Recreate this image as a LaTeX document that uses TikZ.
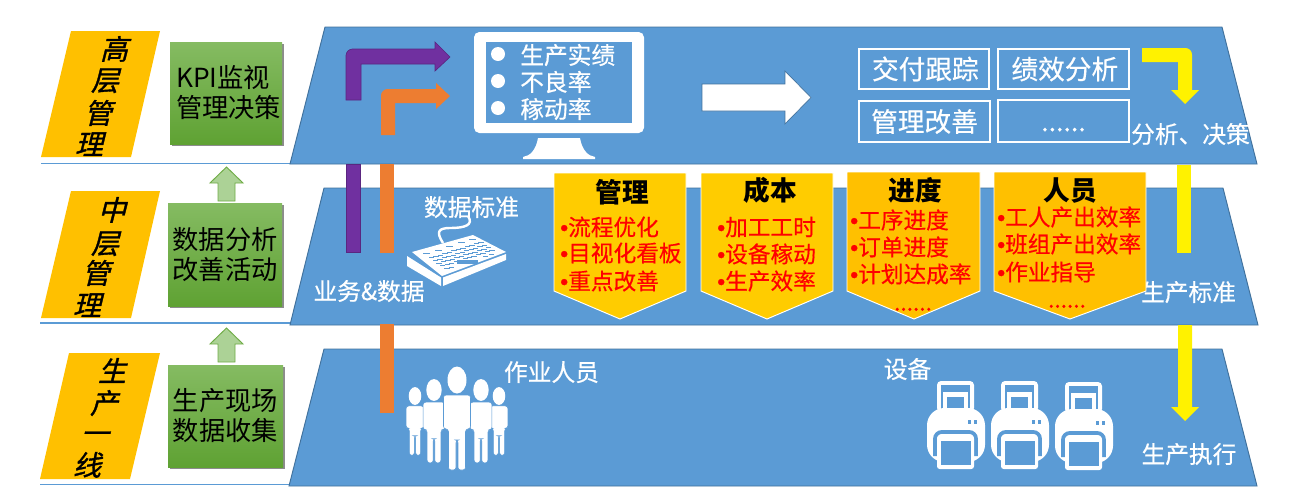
\documentclass[tikz,border=0pt]{standalone}
\usepackage{fontspec}
\usetikzlibrary{shadows}
\setmainfont{Noto Sans CJK SC}
\newfontfamily\slantfont[FakeSlant=.25,FakeBold=1.2]{Noto Sans CJK SC}
\newfontfamily\thickfont[FakeBold=.5]{Noto Sans CJK SC}
\newfontfamily\dotfont[FakeBold=1]{Liberation Sans}
\definecolor{tierblue}{HTML}{5B9BD5}
\definecolor{tieredge}{HTML}{41719C}
\definecolor{tiergold}{HTML}{FFC000}
\definecolor{panelgold}{HTML}{FFCC00}
\definecolor{flowpurple}{HTML}{7030A0}
\definecolor{floworange}{HTML}{ED7D31}
\definecolor{greentop}{HTML}{85BB62}
\definecolor{greenbottom}{HTML}{5FA233}
\definecolor{greenlight}{HTML}{ACD296}
\definecolor{greenedge}{HTML}{70AD47}
\tikzset{
    tier/.style={fill=tierblue,draw=tieredge,line width=.7pt},
    tierline/.style={draw=tierblue,line width=.8pt},
    tiertag/.style={fill=tiergold},
    slantchar/.style={inner sep=0,text height=18.4pt,text depth=2.5pt,font=\fontsize{21}{22}\selectfont\slantfont},
    greenbox/.style={top color=greentop,bottom color=greenbottom,inner sep=0,align=center,
        font=\fontsize{19.7}{22.5}\selectfont,drop shadow={shadow xshift=1.2pt,shadow yshift=-1.8pt,opacity=.45,fill=black}},
    uparrow/.style={fill=greenlight,draw=greenedge,line width=.7pt},
    whitelabel/.style={text=white,inner sep=0,text height=15.7pt,text depth=2.1pt,font=\fontsize{17.8}{20}\selectfont\thickfont},
    whitebox/.style={draw=white,line width=.8pt,text=white,inner sep=0,text height=17.6pt,text depth=2.4pt,font=\fontsize{20}{22}\selectfont\thickfont},
    panel/.style={draw=white,line width=.7pt},
    panelhead/.style={inner sep=0,text height=17.5pt,text depth=2.4pt,font=\fontsize{20}{22}\selectfont\bfseries},
    reditem/.style={text=red,inner sep=0,text height=15pt,text depth=2.1pt,font=\fontsize{17}{20}\selectfont\thickfont},
    keygap/.style={fill=tierblue}
}
\begin{document}
\begin{tikzpicture}[x=.75pt,y=-.75pt]
    \useasboundingbox (0,0) rectangle (1289,497);
    \foreach \y/\xa in {163.5/41,323/40,484.5/40} \draw[tierline] (\xa,\y)--(290,\y);
    \draw[tier] (325,27)--(1222,27)--(1257,164)--(290,164)--cycle;
    \draw[tier] (324,188)--(1223,188)--(1258,325)--(290,325)--cycle;
    \draw[tier] (324,349)--(1222,349)--(1257,486)--(289,486)--cycle;
    \fill[tiertag] (71,31)--(160,31)--(131,157)--(41,157)--cycle;
    \fill[tiertag] (71,191)--(160,191)--(131,318)--(41,318)--cycle;
    \fill[tiertag] (69,353)--(160,353)--(130,479)--(40,479)--cycle;
    \foreach \n/\ch/\cx/\cy in {a/高/114/49,b/层/105/80,c/管/98/113,d/理/89/144,
        e/中/112/210,f/层/105/243,g/管/96/273,h/理/87/305,
        i/生/112/371,j/产/104/403,k/一/95/433,l/线/87/465}
        \node[slantchar] (tag\n) at (\cx,\cy) {\ch};
    \node[greenbox,align=left,minimum width=84pt,minimum height=76.5pt] (kpi) at (226,93) {\hspace*{4pt}KPI监视\\\hspace*{4pt}管理决策};
    \node[greenbox,minimum width=85.5pt,minimum height=77.25pt] (analysis) at (225,254.5) {数据分析\\改善活动};
    \node[greenbox,minimum width=86.25pt,minimum height=76.5pt] (collect) at (225.5,416) {生产现场\\数据收集};
    \foreach \ay in {167,328}
        \draw[uparrow] (226.5,\ay)--(243,\ay+16)--(235,\ay+16)--(235,\ay+34)--(218,\ay+34)--(218,\ay+16)--(210,\ay+16)--cycle;
    \draw[fill=flowpurple,draw=flowpurple!80!black,line width=.5pt] (346,100) [rounded corners=5pt] --(346,49) [sharp corners] --(435,49)--(435,42)--(450,57)--(435,71)--(435,64)--(361,64)--(361,100)--cycle;
    \fill[floworange] (381,135) [rounded corners=5pt] --(381,89) [sharp corners] --(436,89)--(436,83)--(450,96)--(436,109)--(436,103)--(395,103)--(395,135)--cycle;
    \draw[fill=flowpurple,draw=flowpurple!80!black,line width=.5pt] (346,164) rectangle (360,252);
    \fill[floworange] (380,164) rectangle (394,253);
    \fill[floworange] (380,324) rectangle (394,413);
    \fill[yellow] (1142,48) [rounded corners=5pt] --(1192,48) [sharp corners] --(1192,90)--(1199,90)--(1185,104)--(1171,90)--(1178,90)--(1178,62)--(1142,62)--cycle;
    \fill[yellow] (1177,165) rectangle (1191,253);
    \fill[yellow] (1178,325)--(1192,325)--(1192,407)--(1199,407)--(1185,421)--(1171,407)--(1178,407)--cycle;
    \fill[white,rounded corners=4pt] (474,32) rectangle (644,133);
    \fill[tierblue] (486,42) rectangle (632,123);
    \fill[white] (538,138)--(580,138) .. controls (582,150) and (588,156) .. (595,157)--(595,159)--(523,159)--(523,157) .. controls (530,156) and (536,150) .. (538,138)--cycle;
    \foreach \n/\tx/\cy in {output/生产实绩/55,defect/不良率/82,uptime/稼动率/109}{
        \fill[white] (498,\cy-1) circle (7);
        \node[whitelabel,anchor=west] (\n) at (520,\cy) {\tx};
    }
    \draw[fill=white,draw=tieredge,line width=.5pt] (702,84)--(785,84)--(785,71)--(811,97.5)--(785,124)--(785,111)--(702,111)--cycle;
    \node[whitebox,minimum width=97.5pt,minimum height=30pt] (delivery) at (924,69) {\hspace*{2pt}交付跟踪};
    \node[whitebox,minimum width=98.25pt,minimum height=30pt] (perform) at (1063.5,69) {\hspace*{2pt}绩效分析};
    \node[whitebox,minimum width=98.25pt,minimum height=30.75pt] (improve) at (924.5,121.5) {管理改善};
    \node[whitebox,minimum width=98.25pt,minimum height=31.5pt] (more) at (1063.5,121) {......};
    \node[whitelabel] (decide) at (1190.5,134) {分析、决策};
    \node[whitelabel] (standard) at (1188.5,292) {生产标准};
    \node[whitelabel] (execute) at (1189,454) {生产执行};
    \node[whitelabel] (device) at (907.5,369) {设备};
    \node[whitelabel] (worker) at (551.5,372) {作业人员};
    \node[whitelabel] (datastd) at (471.5,207) {数据标准};
    \node[whitelabel] (bizdata) at (369,291) {业务\&数据};
    \foreach \xa/\xb/\xc/\col/\ty in {554/686/620/panelgold/173,701/833/767/panelgold/173,847/980/914/tiergold/172,994/1146/1070/tiergold/172}
        \draw[panel,fill=\col] (\xa,\ty)--(\xb,\ty)--(\xb,291)--(\xc,319)--(\xa,291)--cycle;
    \node[panelhead] (manage) at (622,192) {管理};
    \node[panelhead] (cost) at (770,190) {成本};
    \node[panelhead] (progress) at (915,190) {进度};
    \node[panelhead] (staff) at (1070,190) {人员};
    \foreach \n/\tx/\cx/\cy in {a/流程优化/560/227,b/目视化看板/560/253,c/重点改善/560/281,
        d/加工工时/717/227,e/设备稼动/717/254,f/生产效率/717/281,
        g/工序进度/850/220,h/订单进度/850/247,i/计划达成率/850/274,
        j/工人产出效率/997/217,k/班组产出效率/997/244,l/作业指导/997/272}
        \node[reditem,anchor=west] (item\n) at (\cx,\cy) {{\dotfont •}\tx};
    \node[reditem] (itemm) at (913,302) {......};
    \node[reditem] (itemn) at (1067,299) {......};
    \fill[white] (412,252)--(473,235)--(506,252)--(442,276)--cycle;
    \fill[white] (407,256)--(441,277.5)--(441,286)--(407,266)--cycle;
    \fill[white] (443,277.5)--(506,254)--(506,260)--(443,286)--cycle;
    \draw[white,line width=1.8pt] (443,243) .. controls (436,232) and (438,228) .. (450,228) .. controls (465,228) and (474,225) .. (468,216);
    \begin{scope}[shift={(412,252)},x={(48pt,15pt)},y={(23.25pt,-16.5pt)}]
        \foreach \u in {.1,.28,.46,.64,.82} \fill[keygap] (\u,.15) rectangle +(.08,.07);
        \foreach \v in {.34,.46,.58,.7}
            \foreach \u in {.1,.17,...,.88} \fill[keygap] (\u,\v) rectangle +(.05,.07);
        \foreach \u in {.1,.17,.7,.8} \fill[keygap] (\u,.83) rectangle +(.05,.07);
        \fill[keygap] (.3,.83) rectangle +(.3,.06);
    \end{scope}
    \foreach \cx/\cy/\sc in {415/396/.66,499/396/.66,434/390/.81,481/390/.81,457/380/1}{
        \begin{scope}[shift={(\cx,\cy)},scale=\sc]
            \fill[white] (0,0) ellipse (9.5 and 13.5);
            \draw[fill=white,draw=tierblue,line width=.4pt,rounded corners=2pt] (-13.5,49)--(-13.5,15)--(13.5,15)--(13.5,49)--(8.5,49)--(8.5,90)--(1,90)--(1,60)--(-1,60)--(-1,90)--(-8.5,90)--(-8.5,49)--cycle;
        \end{scope}
    }
    \foreach \px/\py in {0/0,64/0,128/1}{
        \begin{scope}[shift={(\px,\py)}]
            \fill[white,rounded corners=3pt] (937,381) rectangle (974,412);
            \fill[tierblue] (941,385) rectangle (970,412);
            \fill[white] (943,392) rectangle (968,412);
            \fill[tierblue] (947,397) rectangle (964,412);
            \fill[white,rounded corners=13pt] (927,408) rectangle (985,462);
            \draw[tierblue,line width=2.8pt,rounded corners=5pt] (935,456)--(935,432)--(976,432)--(976,456);
            \fill[white,rounded corners=2pt] (937,436) rectangle (974,469);
            \fill[tierblue] (941,441) rectangle (971,465);
            \fill[tierblue] (968,420) rectangle +(2.5,4);
            \fill[tierblue] (974,420) rectangle +(2.5,4);
        \end{scope}
    }
\end{tikzpicture}
\end{document}
